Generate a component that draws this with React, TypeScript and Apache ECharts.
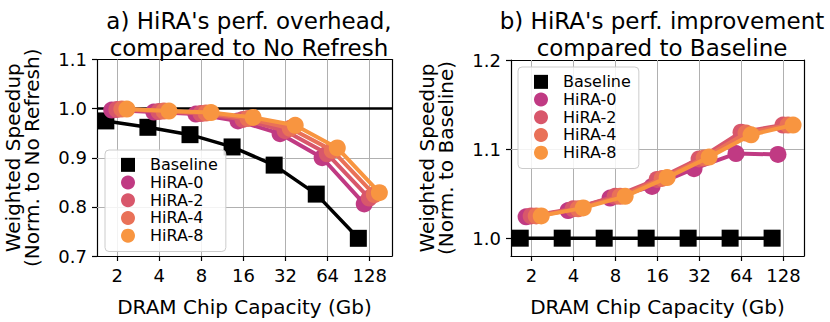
import React, { useEffect, useRef } from "react";
import * as echarts from "echarts";

const capacities = ["2", "4", "8", "16", "32", "64", "128"];
const seriesNames = ["Baseline", "HiRA-0", "HiRA-2", "HiRA-4", "HiRA-8"];

// a) normalized to No Refresh
const overheadBaseline = [0.975, 0.962, 0.947, 0.922, 0.885, 0.826, 0.736];
const overheadHiRA0 = [0.997, 0.993, 0.989, 0.975, 0.949, 0.9, 0.806];
const overheadHiRA2 = [0.998, 0.994, 0.99, 0.978, 0.955, 0.908, 0.818];
const overheadHiRA4 = [0.999, 0.995, 0.991, 0.98, 0.96, 0.915, 0.825];
const overheadHiRA8 = [0.999, 0.995, 0.992, 0.982, 0.966, 0.92, 0.829];

// b) normalized to Baseline
const improvBaseline = [1.0, 1.0, 1.0, 1.0, 1.0, 1.0, 1.0];
const improvHiRA0 = [1.024, 1.031, 1.045, 1.058, 1.078, 1.095, 1.094];
const improvHiRA2 = [1.025, 1.033, 1.047, 1.066, 1.089, 1.119, 1.127];
const improvHiRA4 = [1.025, 1.033, 1.047, 1.067, 1.09, 1.118, 1.127];
const improvHiRA8 = [1.025, 1.034, 1.047, 1.068, 1.091, 1.116, 1.127];

const leftYTicks = [0.7, 0.8, 0.9, 1.0, 1.1];
const rightYTicks = [1.0, 1.1, 1.2];

const COLORS = ["#000000", "#c03a83", "#d8576b", "#e97158", "#f89540"];
const OFFSETS = [-0.27, -0.13, -0.01, 0.11, 0.23];
const FONT = "DejaVu Sans";
const idx = capacities.map((_, i) => i);

const GRID_COLOR = "#b0b0b0";
const XRANGE = [
  [-0.48, 6.53],
  [-0.49, 6.49],
];
const YRANGE = [
  [0.7, 1.1],
  [0.98, 1.2],
];

export default function App() {
  const ref = useRef<HTMLDivElement>(null);
  useEffect(() => {
    if (!ref.current) return;
    const chart = echarts.init(ref.current, undefined, { renderer: "svg" });
    const leftData = [overheadBaseline, overheadHiRA0, overheadHiRA2, overheadHiRA4, overheadHiRA8];
    const rightData = [improvBaseline, improvHiRA0, improvHiRA2, improvHiRA4, improvHiRA8];
    const yTicks = [leftYTicks, rightYTicks];

    const mkSeries = (data: number[][], g: number) =>
      data.map((vals, s) => ({
        name: seriesNames[s],
        type: "line",
        xAxisIndex: g * 2,
        yAxisIndex: g * 2,
        data: vals.map((v, i) => [i + OFFSETS[s], v]),
        symbol: s === 0 ? "rect" : "circle",
        symbolSize: 17,
        showSymbol: true,
        z: 3 + s,
        lineStyle: { color: COLORS[s], width: s === 0 ? 3.5 : 4 },
        itemStyle: { color: COLORS[s] },
        emphasis: { disabled: true },
        ...(s === 0 && g === 0
          ? {
              markLine: {
                silent: true,
                z: 2,
                symbol: ["none", "none"],
                label: { show: false },
                lineStyle: { color: "#000", width: 2.5, type: "solid" },
                data: [{ yAxis: 1.0 }],
              },
            }
          : {}),
      }));

    const axisLine = { show: true, onZero: false, lineStyle: { color: "#000", width: 1.2 } };

    const xAxes: any[] = [];
    const yAxes: any[] = [];
    [0, 1].forEach((g) => {
      const [xmin, xmax] = XRANGE[g];
      const [ymin, ymax] = YRANGE[g];
      xAxes.push({
        type: "value",
        gridIndex: g,
        position: "bottom",
        min: xmin,
        max: xmax,
        name: "DRAM Chip Capacity (Gb)",
        nameLocation: "middle",
        nameGap: 41,
        nameTextStyle: { fontFamily: FONT, fontSize: 20, color: "#000" },
        axisLine,
        axisTick: { show: true, customValues: idx, length: 5, lineStyle: { color: "#000", width: 1.2 } },
        axisLabel: {
          customValues: idx,
          formatter: (v: number) => capacities[Math.round(v)] ?? "",
          fontFamily: FONT,
          fontSize: 18,
          color: "#000",
          margin: 10,
        },
        splitLine: { show: false },
      });
      xAxes.push({
        type: "value",
        gridIndex: g,
        position: "top",
        min: xmin,
        max: xmax,
        axisLine,
        axisTick: { show: false },
        axisLabel: { show: false },
        splitLine: { show: false },
      });
      yAxes.push({
        type: "value",
        gridIndex: g,
        position: "left",
        min: ymin,
        max: ymax,
        name: `Weighted Speedup\n${g === 0 ? "(Norm. to No Refresh)" : "(Norm. to Baseline)"}`,
        nameLocation: "middle",
        nameRotate: 90,
        nameGap: 56,
        nameTextStyle: { fontFamily: FONT, fontSize: 20, color: "#000", lineHeight: 19 },
        axisLine,
        axisTick: { show: true, customValues: yTicks[g], length: 5, lineStyle: { color: "#000", width: 1.2 } },
        axisLabel: {
          customValues: yTicks[g],
          formatter: (v: number) => v.toFixed(1),
          fontFamily: FONT,
          fontSize: 18,
          color: "#000",
          margin: 10,
        },
        splitLine: { show: false },
      });
      yAxes.push({
        type: "value",
        gridIndex: g,
        position: "right",
        min: ymin,
        max: ymax,
        axisLine,
        axisTick: { show: false },
        axisLabel: { show: false },
        splitLine: { show: false },
      });
    });

    const grayLines = (g: number) => {
      const vert = idx.map((i) => ({ xAxis: i }));
      const horiz = yTicks[g]
        .filter((v) => v > YRANGE[g][0] && v < YRANGE[g][1] && !(g === 1 && v === 1.0))
        .map((v) => ({ yAxis: v }));
      return {
        name: "grid" + g,
        type: "line",
        xAxisIndex: g * 2,
        yAxisIndex: g * 2,
        data: [[0, yTicks[g][1]]],
        showSymbol: false,
        symbol: "none",
        lineStyle: { opacity: 0 },
        silent: true,
        z: 1,
        markLine: {
          silent: true,
          z: 1,
          symbol: ["none", "none"],
          label: { show: false },
          lineStyle: { color: GRID_COLOR, width: 1, type: "solid" },
          data: [...vert, ...horiz],
        },
      };
    };

    const option: any = {
      animation: false,
      backgroundColor: "#fff",
      textStyle: { fontFamily: FONT },
      title: [
        {
          text: "a) HiRA's perf. overhead,\ncompared to No Refresh",
          left: 244,
          top: 2,
          textAlign: "center",
          textStyle: { fontFamily: FONT, fontSize: 23, fontWeight: "normal", color: "#000", lineHeight: 27 },
        },
        {
          text: "b) HiRA's perf. improvement\ncompared to Baseline",
          left: 657,
          top: 2,
          textAlign: "center",
          textStyle: { fontFamily: FONT, fontSize: 23, fontWeight: "normal", color: "#000", lineHeight: 27 },
        },
      ],
      grid: [
        { left: 97, top: 59.5, width: 295, height: 200.5, show: false },
        { left: 511, top: 60, width: 293, height: 200, show: false },
      ],
      xAxis: xAxes,
      yAxis: yAxes,
      legend: [0, 1].map((g) => ({
        orient: "vertical",
        left: g === 0 ? 105 : 518,
        top: g === 0 ? 150 : 67,
        padding: [6, 8, 7, 16],
        itemWidth: 14,
        itemHeight: 14,
        itemGap: 0,
        backgroundColor: "rgba(255,255,255,0.85)",
        borderColor: "#cccccc",
        borderWidth: 1,
        borderRadius: 4,
        selectedMode: false,
        textStyle: { fontFamily: FONT, fontSize: 16, color: "#000", lineHeight: 17.7, padding: [0, 0, 0, 10] },
        data: seriesNames.map((n, s) => ({ name: n, icon: s === 0 ? "rect" : "circle" })),
        z: 20,
      })),
      series: [grayLines(0), grayLines(1), ...mkSeries(leftData, 0), ...mkSeries(rightData, 1)],
    };
    chart.setOption(option);
    return () => chart.dispose();
  }, []);
  return <div ref={ref} style={{ position: "fixed", left: 0, top: 0, width: 830, height: 322 }} />;
}
